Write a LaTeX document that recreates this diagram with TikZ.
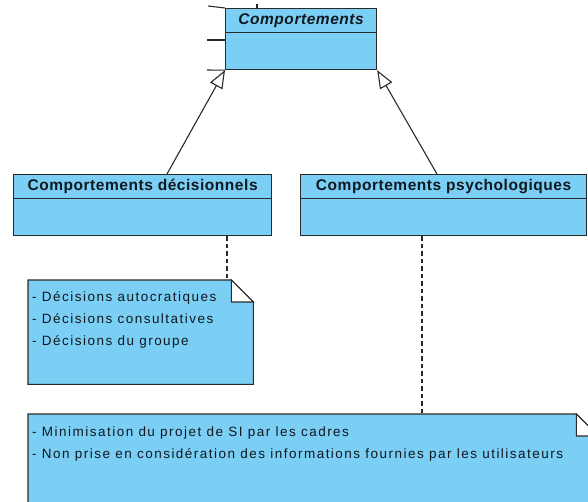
\documentclass[tikz,border=0pt]{standalone}
\usepackage{fontspec}
\setmainfont{Liberation Sans}
\setsansfont{Liberation Sans}
\newfontfamily\headfont[LetterSpace=3.5]{Liberation Sans}
\newfontfamily\notefont[LetterSpace=11]{Liberation Sans}
\usepackage{xcolor}
\definecolor{umlblue}{HTML}{7BCEF4}
\definecolor{umlline}{HTML}{2A2A2A}
\definecolor{umltext}{HTML}{101820}
\usepackage{tikz}
\usetikzlibrary{arrows.meta,positioning,calc}

\tikzset{
  classbox/.style={draw=umlline,fill=umlblue,line width=1.2pt,anchor=north west,inner sep=0pt,minimum height=61pt,
    path picture={\draw[umlline,line width=1.2pt] ([yshift=-24pt]path picture bounding box.north west) -- ([yshift=-24pt]path picture bounding box.north east);}},
  classtitle/.style={anchor=base,inner sep=0pt,text=umltext,font=\headfont\bfseries\fontsize{15.5}{18}\selectfont},
  noteframe/.style={anchor=north west,inner sep=0pt},
  notetext/.style={anchor=north west,inner sep=0pt,align=left,text=umltext,font=\notefont\fontsize{13.5}{22}\selectfont},
  umledge/.style={draw=umlline,line width=1.1pt},
  dashline/.style={umledge,dash pattern=on 4.5pt off 3pt},
  genarrow/.style={umledge,-{Triangle[open,length=18pt,width=14pt,fill=white]}},
}

% note with a folded corner, drawn round an empty node
\newcommand{\notefold}[2]{%
  \draw[umledge,fill=umlblue] (#1.north west) -- ([xshift=-#2]#1.north east) -- ([yshift=-#2]#1.north east) -- (#1.south east) -- (#1.south west) -- cycle;
  \draw[umledge,fill=white] ([xshift=-#2]#1.north east) -- ([xshift=-#2,yshift=-#2]#1.north east) -- ([yshift=-#2]#1.north east) -- cycle;}

\begin{document}
\begin{tikzpicture}[x=1pt,y=-1pt]
\useasboundingbox (0,0) rectangle (588,501);
\clip (0,0) rectangle (588,501);

% classes
\node[classbox,minimum width=151pt] (comp) at (225,8) {};
\node[classtitle] (compname) at ([yshift=-16pt]comp.north) {\itshape Comportements};
\node[classbox,minimum width=258pt] (decis) at (13,174) {};
\node[classtitle] (decisname) at ([yshift=-16pt]decis.north) {Comportements décisionnels};
\node[classbox,minimum width=286pt] (psych) at (300,174) {};
\node[classtitle] (psychname) at ([yshift=-16pt]psych.north) {Comportements psychologiques};

% cut-off connectors on the left
\coordinate (tickA) at (208,6);
\coordinate (tickB) at (207,40);
\coordinate (tickC) at (207,70);
\coordinate (tickD) at (257,4);
\draw[umledge] (comp.north west) -- (tickA);
\draw[umledge] ([yshift=-32pt]comp.north west) -- (tickB);
\draw[umledge] (comp.south west) -- (tickC);
\draw[umledge] ([xshift=32pt]comp.north west) -- (tickD);

% generalisations
\draw[genarrow] ([xshift=154pt]decis.north west) -- (comp.south west);
\draw[genarrow] ([xshift=137pt]psych.north west) -- (comp.south east);

% notes
\node[noteframe,minimum width=225pt,minimum height=104pt] (note1) at (28,280) {};
\notefold{note1}{22pt}
\node[notetext] (note1txt) at ([xshift=4pt,yshift=-11pt]note1.north west) {- Décisions autocratiques\\- Décisions consultatives\\- Décisions du groupe};
\node[noteframe,minimum width=570pt,minimum height=120pt] (note2) at (28,414) {};
\notefold{note2}{22pt}
\node[notetext] (note2txt) at ([xshift=4pt,yshift=-13pt]note2.north west) {- Minimisation du projet de SI par les cadres\\- Non prise en considération des informations fournies par les utilisateurs};

\draw[dashline] ([xshift=214pt]decis.south west) -- ([xshift=214pt]decis.south west |- note1.north);
\draw[dashline] ([xshift=122pt]psych.south west) -- ([xshift=122pt]psych.south west |- note2.north);
\end{tikzpicture}
\end{document}
